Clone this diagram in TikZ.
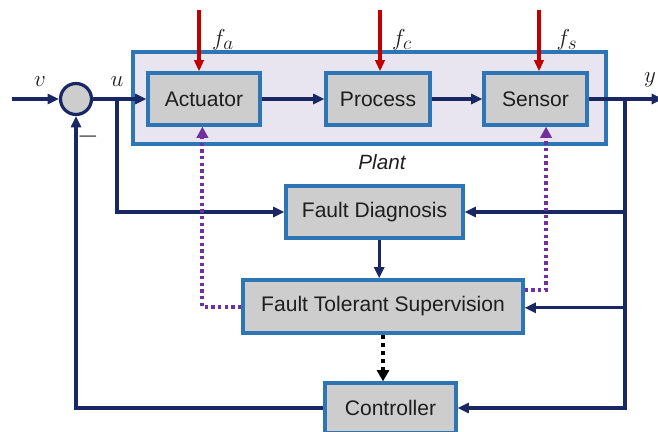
\documentclass[tikz,border=0pt]{standalone}
\usepackage{fontspec}
\setmainfont{Liberation Sans}
\usetikzlibrary{arrows.meta,calc}
\definecolor{navy}{RGB}{25,40,100}
\definecolor{bborder}{RGB}{46,117,182}
\definecolor{bfill}{RGB}{206,205,205}
\definecolor{plantfill}{RGB}{232,228,240}
\definecolor{fred}{RGB}{192,0,0}
\definecolor{fpurple}{RGB}{112,48,160}
\definecolor{txt}{RGB}{30,30,30}
\begin{document}
\begin{tikzpicture}[x=0.75pt,y=-0.75pt,
  blk/.style={draw=bborder,fill=bfill,line width=2.4pt,inner sep=0pt,minimum height=39pt,
    text=txt,font=\fontsize{15.8}{18}\selectfont},
  sig/.style={draw=navy,line width=2.3pt},
  arr/.style={sig,-{Triangle[length=8.5pt,width=7.5pt]}},
  flt/.style={draw=fred,line width=2.3pt,-{Triangle[length=8.5pt,width=7pt]}},
  pdot/.style={draw=fpurple,line width=3pt,dash pattern=on 2.6pt off 2.4pt,-{Triangle[length=8.5pt,width=8.5pt]}},
  bdot/.style={draw=black,line width=3.4pt,dash pattern=on 3pt off 3pt,-{Triangle[length=8.5pt,width=9pt]}},
  lbl/.style={font=\fontsize{19}{20}\selectfont,text=txt}]
\useasboundingbox (0,0) rectangle (658,432);
% plant
\node[draw=bborder,fill=plantfill,line width=2.4pt,minimum width=354.75pt,minimum height=69pt,inner sep=0pt] (plant) at (369.5,98) {};
\node[font=\fontsize{15.5}{18}\selectfont\itshape,text=txt] (plantlbl) at (382,162) {Plant};
% blocks
\node[blk,minimum width=84pt] (act) at (204,99) {Actuator};
\node[blk,minimum width=78pt] (proc) at (378,99) {Process};
\node[blk,minimum width=77.25pt] (sen) at (535.5,99) {Sensor};
\node[blk,minimum width=132.75pt] (fd) at (374.5,212) {Fault Diagnosis};
\node[blk,minimum width=210pt,minimum height=39.75pt] (fts) at (383,306.5) {Fault Tolerant Supervision};
\node[blk,minimum width=98.25pt,minimum height=37.5pt] (ctrl) at (390.5,408) {Controller};
% sum
\node[circle,draw=navy,fill=bfill,line width=2.4pt,minimum size=23.25pt,inner sep=0pt] (sum) at (76,99) {};
\node[lbl] (minus) at (88,137) {\fontsize{22}{22}\selectfont$-$};
% labels
\node[lbl] (vl) at (40,82) {$v$};
\node[lbl] (ul) at (117,82) {$u$};
\node[lbl] (yl) at (650,80) {$y$};
\node[lbl] (fal) at (223,40) {$f_a$};
\node[lbl] (fcl) at (402,40) {$f_c$};
\node[lbl] (fsl) at (567,40) {$f_s$};
% fault inputs
\coordinate (fa) at (199,10);
\coordinate (fc) at (380,10);
\coordinate (fs) at (539,10);
\draw[flt] (fa) -- (fa |- act.north);
\draw[flt] (fc) -- (fc |- proc.north);
\draw[flt] (fs) -- (fs |- sen.north);
% main path
\coordinate (vin) at (12,99);
\coordinate (yout) at (663,99);
\coordinate (ub) at (117,99);
\coordinate (yb) at (625,99);
\draw[arr] (vin) -- (sum.west);
\draw[arr] (sum.east) -- (act.west);
\draw[arr] (act.east) -- (proc.west);
\draw[arr] (proc.east) -- (sen.west);
\draw[arr] (sen.east) -- (yout);
\draw[arr] (ub) |- (fd.west);
\draw[arr] (yb) |- (fd.east);
\draw[arr] (yb) |- ([yshift=-1pt]fts.east);
\draw[arr] (yb) |- (ctrl.east);
\draw[arr] (ctrl.west) -| (sum.south);
\draw[arr] ([xshift=3.5pt]fd.south) -- ([xshift=3.5pt]fd.south |- fts.north);
\draw[bdot] (fts.south) -- (fts.south |- ctrl.north);
% purple reconfiguration
\draw[pdot] ([yshift=-0.4pt]fts.west) -| ([xshift=-1.2pt]act.south);
\draw[pdot] ([yshift=12.4pt]fts.east) -| ([xshift=7.9pt]sen.south);
\end{tikzpicture}
\end{document}
